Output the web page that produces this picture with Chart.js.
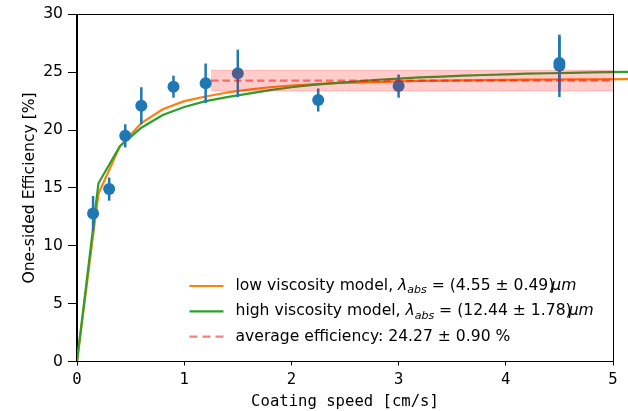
<!DOCTYPE html>
<html>
<head>
<meta charset="utf-8">
<script src="https://cdn.jsdelivr.net/npm/chart.js@4"></script>
<style>
  html, body { margin: 0; padding: 0; background: #fff; }
  #wrap { width: 628px; height: 411px; }
</style>
</head>
<body>
<div id="wrap"><canvas id="myChart" width="628" height="411"></canvas></div>
<script>
'use strict';

// measured points
let speeds = [0.15, 0.3, 0.45, 0.6, 0.9, 1.2, 1.5, 2.25, 3.0, 4.5, 4.5];
let efficiency = [12.8, 14.9, 19.5, 22.1, 23.75, 24.05, 24.9, 22.6, 23.8, 25.8, 25.55];
let efficiencyErr = [1.5, 1.0, 1.0, 1.6, 0.95, 1.7, 2.05, 1.0, 1.0, 2.3, 2.7];

// model curves (last point lies past the axis end, line runs out of the frame)
let modelSpeeds = [0, 0.2, 0.4, 0.6, 0.8, 1.0, 1.2, 1.4, 1.6, 1.8, 2.0, 2.2, 2.4, 2.6, 2.8, 3.0,
  3.2, 3.4, 3.6, 3.8, 4.0, 4.2, 4.4, 4.6, 4.8, 5.2];
let lowViscosity = [0, 14.5, 18.6, 20.6, 21.8, 22.5, 22.9, 23.25, 23.5, 23.7, 23.85, 23.95, 24.05,
  24.1, 24.15, 24.2, 24.25, 24.28, 24.3, 24.32, 24.34, 24.36, 24.37, 24.38, 24.39, 24.41];
let highViscosity = [0, 15.4, 18.6, 20.2, 21.3, 22.0, 22.5, 22.85, 23.15, 23.45, 23.7, 23.9, 24.05,
  24.2, 24.35, 24.45, 24.55, 24.62, 24.7, 24.76, 24.82, 24.87, 24.91, 24.95, 24.98, 25.03];

// average efficiency band
let avgEfficiency = 24.27;
let avgErr = 0.90;
let avgRange = [1.25, 5.0];

let xTicks = [0, 1, 2, 3, 4, 5];
let yTicks = [0, 5, 10, 15, 20, 25, 30];

let legendLabels = [
  [['low viscosity model, ', 'n'], ['λ', 'i'], ['abs', 's'], [' = (4.55 ± 0.49)', 'n'], ['μm', 'k']],
  [['high viscosity model, ', 'n'], ['λ', 'i'], ['abs', 's'], [' = (12.44 ± 1.78)', 'n'], ['μm', 'k']],
  [['average efficiency: 24.27 ± 0.90 %', 'n']]
];

let blue = '#1f77b4';
let orange = '#ff7f0e';
let green = '#2ca02c';
let fontSize = 15.6;

function toPoints(xs, ys) {
  let out = [];
  for (let i = 0; i < xs.length; i++) {
    out.push({x: xs[i], y: ys[i]});
  }
  return out;
}

let errorBars = {
  id: 'errorBars',
  beforeDatasetDraw(chart, args) {
    if (args.index !== 2) return;
    let ctx = chart.ctx;
    let xs = chart.scales.x;
    let ys = chart.scales.y;
    ctx.save();
    ctx.strokeStyle = blue;
    ctx.lineWidth = 2.5;
    for (let i = 0; i < speeds.length; i++) {
      let px = xs.getPixelForValue(speeds[i]);
      ctx.beginPath();
      ctx.moveTo(px, ys.getPixelForValue(efficiency[i] - efficiencyErr[i]));
      ctx.lineTo(px, ys.getPixelForValue(efficiency[i] + efficiencyErr[i]));
      ctx.stroke();
    }
    ctx.restore();
  }
};

let frameAndLegend = {
  id: 'frameAndLegend',
  afterDraw(chart) {
    let ctx = chart.ctx;
    let a = chart.chartArea;
    ctx.save();
    ctx.strokeStyle = '#000';
    ctx.lineWidth = 1;
    ctx.strokeRect(Math.round(a.left) - 0.5, Math.round(a.top) + 0.5,
      Math.round(a.right - a.left) + 1, Math.round(a.bottom - a.top));

    // legend
    let colors = [orange, green, 'rgba(240,60,60,0.65)'];
    let dashes = [[], [], [8, 5]];
    let x0 = 189.5, y0 = 286, step = 25.3;
    for (let i = 0; i < legendLabels.length; i++) {
      let y = y0 + i * step;
      ctx.beginPath();
      ctx.setLineDash(dashes[i]);
      ctx.strokeStyle = colors[i];
      ctx.lineWidth = 2.2;
      ctx.moveTo(x0, y);
      ctx.lineTo(x0 + 34, y);
      ctx.stroke();
      ctx.setLineDash([]);
      let tx = 235.5;
      ctx.fillStyle = '#000';
      ctx.textBaseline = 'middle';
      ctx.textAlign = 'left';
      for (let part of legendLabels[i]) {
        let txt = part[0], kind = part[1];
        let dy = 0;
        if (kind === 'n') ctx.font = fontSize + 'px "DejaVu Sans"';
        else if (kind === 'i') ctx.font = 'oblique ' + fontSize + 'px "DejaVu Sans"';
        else if (kind === 's') { ctx.font = 'oblique 11px "DejaVu Sans"'; dy = 4.5; }
        else if (kind === 'k') { ctx.font = 'oblique ' + fontSize + 'px "DejaVu Sans"'; tx -= 3; }
        ctx.fillText(txt, tx, y + dy);
        tx += ctx.measureText(txt).width;
      }
    }
    ctx.restore();
  }
};

let ctx = document.getElementById('myChart').getContext('2d');
let chart = new Chart(ctx, {
  type: 'scatter',
  data: {
    datasets: [{
      label: 'low viscosity model',
      data: toPoints(modelSpeeds, lowViscosity),
      showLine: true,
      borderColor: orange,
      borderWidth: 2.2,
      pointRadius: 0,
      tension: 0,
      clip: false,
      order: 5
    }, {
      label: 'high viscosity model',
      data: toPoints(modelSpeeds, highViscosity),
      showLine: true,
      borderColor: green,
      borderWidth: 2.2,
      pointRadius: 0,
      tension: 0,
      clip: false,
      order: 4
    }, {
      label: 'data',
      data: toPoints(speeds, efficiency),
      pointRadius: 6,
      pointBackgroundColor: blue,
      pointBorderWidth: 0,
      order: 3
    }, {
      label: 'band top',
      data: toPoints(avgRange, [avgEfficiency + avgErr, avgEfficiency + avgErr]),
      showLine: true,
      borderColor: 'rgba(255,0,0,0.2)',
      borderWidth: 1,
      backgroundColor: 'rgba(255,0,0,0.2)',
      fill: '+1',
      pointRadius: 0,
      order: 2
    }, {
      label: 'band bottom',
      data: toPoints(avgRange, [avgEfficiency - avgErr, avgEfficiency - avgErr]),
      showLine: true,
      borderColor: 'rgba(255,0,0,0.2)',
      borderWidth: 1,
      pointRadius: 0,
      order: 2
    }, {
      label: 'average efficiency',
      data: toPoints(avgRange, [avgEfficiency, avgEfficiency]),
      showLine: true,
      borderColor: 'rgba(255,0,0,0.5)',
      borderWidth: 2.2,
      borderDash: [7.5, 4],
      pointRadius: 0,
      order: 1
    }]
  },
  options: {
    responsive: false,
    animation: false,
    layout: {padding: {left: 0, right: 15, top: 14, bottom: 0}},
    plugins: {
      legend: {display: false},
      tooltip: {enabled: false}
    },
    scales: {
      x: {
        type: 'linear',
        min: 0,
        max: 5,
        afterBuildTicks(scale) { scale.ticks = xTicks.map(v => ({value: v})); },
        afterFit(scale) { scale.height = 49.5; },
        grid: {drawOnChartArea: false, drawTicks: true, tickLength: 4, color: '#000'},
        border: {display: true, color: '#000'},
        ticks: {color: '#000', padding: 5, maxRotation: 0,
          font: {family: '"DejaVu Sans Mono"', size: fontSize}},
        title: {display: true, text: 'Coating speed [cm/s]', color: '#000',
          padding: {top: 0, bottom: 0},
          font: {family: '"DejaVu Sans Mono"', size: fontSize}}
      },
      y: {
        type: 'linear',
        min: 0,
        max: 30,
        afterBuildTicks(scale) { scale.ticks = yTicks.map(v => ({value: v})); },
        afterFit(scale) { scale.width = 77; },
        grid: {drawOnChartArea: false, drawTicks: true, tickLength: 9, color: '#000'},
        border: {display: true, color: '#000'},
        ticks: {color: '#000', padding: 5,
          font: {family: '"DejaVu Sans"', size: fontSize}},
        title: {display: true, text: 'One-sided Efficiency [%]', color: '#000',
          padding: {top: 21, bottom: 0},
          font: {family: '"DejaVu Sans"', size: fontSize}}
      }
    }
  },
  plugins: [errorBars, frameAndLegend]
});
</script>
</body>
</html>
